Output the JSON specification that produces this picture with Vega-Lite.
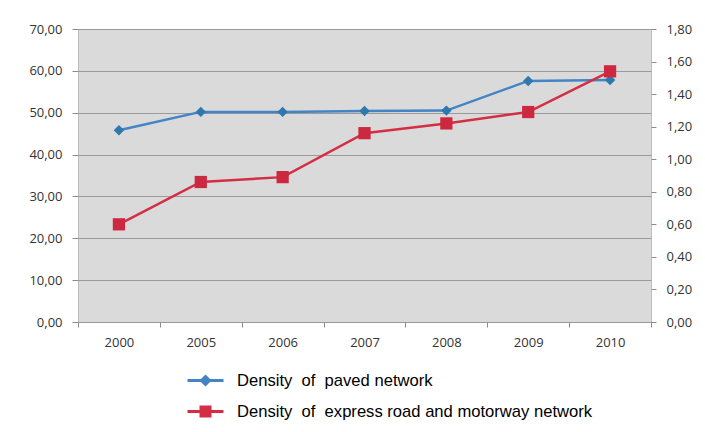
{
  "$schema": "https://vega.github.io/schema/vega-lite/v6.json",
  "autosize": {"type": "none"},
  "width": 573,
  "height": 293,
  "padding": {"left": 78, "top": 29, "right": 54, "bottom": 110},
  "background": "#ffffff",
  "config": {
    "view": {"fill": "#dadada", "stroke": "#bdbdbd", "strokeWidth": 1},
    "axis": {"labelFont": "Open Sans", "labelFontSize": 13, "labelColor": "#333333", "tickColor": "#8c8c8c", "domainColor": "#bdbdbd", "title": null}
  },
  "data": {
    "values": [
      {"year": "2000", "series": "Density \u00a0of \u00a0paved network", "value": 45.8},
      {"year": "2005", "series": "Density \u00a0of \u00a0paved network", "value": 50.2},
      {"year": "2006", "series": "Density \u00a0of \u00a0paved network", "value": 50.2},
      {"year": "2007", "series": "Density \u00a0of \u00a0paved network", "value": 50.4},
      {"year": "2008", "series": "Density \u00a0of \u00a0paved network", "value": 50.5},
      {"year": "2009", "series": "Density \u00a0of \u00a0paved network", "value": 57.6},
      {"year": "2010", "series": "Density \u00a0of \u00a0paved network", "value": 57.8},
      {"year": "2000", "series": "Density \u00a0of \u00a0express road and motorway network", "value": 0.60},
      {"year": "2005", "series": "Density \u00a0of \u00a0express road and motorway network", "value": 0.86},
      {"year": "2006", "series": "Density \u00a0of \u00a0express road and motorway network", "value": 0.89},
      {"year": "2007", "series": "Density \u00a0of \u00a0express road and motorway network", "value": 1.16},
      {"year": "2008", "series": "Density \u00a0of \u00a0express road and motorway network", "value": 1.22},
      {"year": "2009", "series": "Density \u00a0of \u00a0express road and motorway network", "value": 1.29},
      {"year": "2010", "series": "Density \u00a0of \u00a0express road and motorway network", "value": 1.54}
    ]
  },
  "encoding": {
    "x": {"field": "year", "type": "ordinal", "axis": {"labelAngle": 0, "tickBand": "extent", "tickSize": 5, "labelPadding": 9, "domain": false}}
  },
  "layer": [
    {
      "transform": [{"filter": "indexof(datum.series, 'paved') >= 0"}],
      "encoding": {
        "y": {"field": "value", "type": "quantitative", "scale": {"domain": [0, 70], "nice": false}, "axis": {"orient": "left", "values": [0, 10, 20, 30, 40, 50, 60, 70], "labelExpr": "replace(format(datum.value, '.2f'), '.', ',')", "gridColor": "#9a9a9a", "tickSize": 6, "labelPadding": 10, "domain": false}}
      },
      "layer": [
        {"mark": {"type": "line", "strokeWidth": 2.5}, "encoding": {"color": {"field": "series", "type": "nominal", "scale": {"domain": ["Density \u00a0of \u00a0paved network", "Density \u00a0of \u00a0express road and motorway network"], "range": ["#4384c6", "#d42e44"]}, "legend": {"orient": "none", "legendX": 116, "legendY": 340, "title": null, "labelFont": "Liberation Sans", "labelFontSize": 16.6, "labelColor": "#000000", "labelLimit": 0, "symbolSize": 400, "symbolStrokeWidth": 3, "rowPadding": 9, "labelOffset": 20, "encode": {"symbols": {"update": {"shape": {"signal": "indexof(datum.value, 'paved') >= 0 ? 'M-1.8,0H1.8M0,-0.4L0.4,0L0,0.4L-0.4,0Z' : 'M-1.8,0H1.8M-0.45,-0.45H0.45V0.45H-0.45Z'"}, "fill": {"signal": "indexof(datum.value, 'paved') >= 0 ? '#3b7fbf' : '#d42e44'"}, "fillOpacity": {"value": 1}}}}}}}},
        {"mark": {"type": "point", "shape": "diamond", "filled": true, "size": 110, "color": "#2f78ae", "opacity": 1}}
      ]
    },
    {
      "transform": [{"filter": "indexof(datum.series, 'express') >= 0"}],
      "encoding": {
        "y": {"field": "value", "type": "quantitative", "scale": {"domain": [0, 1.8], "nice": false}, "axis": {"orient": "right", "values": [0, 0.2, 0.4, 0.6, 0.8, 1.0, 1.2, 1.4, 1.6, 1.8], "labelExpr": "replace(format(datum.value, '.2f'), '.', ',')", "grid": false, "tickSize": 5, "labelPadding": 10, "domain": false}}
      },
      "layer": [
        {"mark": {"type": "line", "strokeWidth": 2.5}, "encoding": {"color": {"field": "series", "type": "nominal"}}},
        {"mark": {"type": "point", "shape": "square", "filled": true, "size": 150, "color": "#cc2840", "opacity": 1}}
      ]
    }
  ],
  "resolve": {"scale": {"y": "independent"}, "axis": {"y": "independent"}}
}
